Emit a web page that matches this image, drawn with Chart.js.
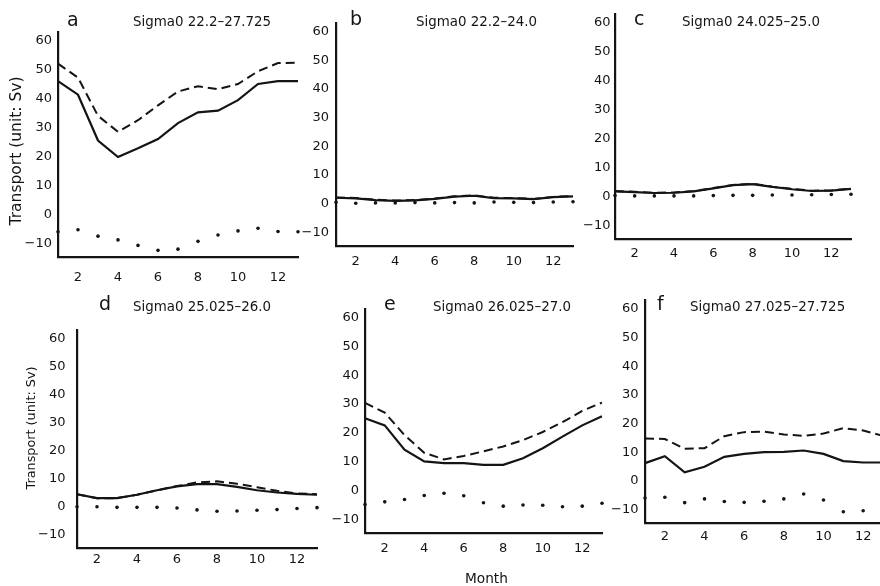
<!DOCTYPE html>
<html>
<head>
<meta charset="utf-8">
<script src="https://cdn.jsdelivr.net/npm/chart.js@4.4.1/dist/chart.umd.min.js"></script>
<style>
  html, body { margin: 0; padding: 0; background: #fff; }
  #fig { position: relative; width: 880px; height: 586px; overflow: hidden; background: #fff; }
  #fig canvas { position: absolute; }
  .lbl { position: absolute; white-space: nowrap; font-family: "DejaVu Sans", sans-serif; color: #141414; line-height: 1; }
</style>
</head>
<body>
<div id="fig"></div>
<script>
// Monthly transport (Sv) per density class
const months = [1, 2, 3, 4, 5, 6, 7, 8, 9, 10, 11, 12, 13];
const xTicks = [2, 4, 6, 8, 10, 12];
const yTicks = [-10, 0, 10, 20, 30, 40, 50, 60];

const aSolid  = [46, 41.3, 25.5, 19.8, 22.8, 26, 31.5, 35.2, 35.8, 39.4, 45, 46, 46];
const aDashed = [52, 47.2, 34, 28.5, 32.5, 37.6, 42.4, 44.2, 43.2, 45, 49.4, 52.2, 52.3];
const aDots   = [-6, -5.3, -7.5, -8.8, -10.7, -12.4, -12, -9.3, -7.1, -5.7, -4.8, -5.9, -6];

const bSolid  = [2.1, 1.9, 1.3, 1.0, 1.2, 1.7, 2.5, 2.8, 2.0, 1.9, 1.6, 2.3, 2.6];
const bDashed = [2.2, 2.0, 1.4, 1.1, 1.3, 1.8, 2.6, 2.9, 2.1, 2.0, 1.7, 2.4, 2.7];
const bDots   = [0.5, 0.2, 0.3, 0.3, 0.4, 0.3, 0.4, 0.3, 0.6, 0.5, 0.4, 0.6, 0.7];

const cSolid  = [1.8, 1.5, 1.2, 1.3, 1.8, 2.8, 3.9, 4.3, 3.3, 2.5, 1.9, 2.0, 2.6];
const cDashed = [1.9, 1.6, 1.3, 1.4, 1.9, 2.9, 4.0, 4.4, 3.4, 2.6, 2.0, 2.1, 2.7];
const cDots   = [0.3, 0.2, 0.2, 0.2, 0.2, 0.3, 0.4, 0.4, 0.5, 0.5, 0.6, 0.7, 0.8];

const dSolid  = [4.5, 3.1, 3.1, 4.3, 5.9, 7.3, 8.1, 8.1, 7.1, 5.9, 5.1, 4.6, 4.3];
const dDashed = [4.5, 3.1, 3.1, 4.3, 5.9, 7.4, 8.7, 9.1, 8.2, 7.0, 5.7, 4.8, 4.5];
const dDots   = [0, 0, -0.2, -0.2, -0.2, -0.4, -1.1, -1.6, -1.5, -1.2, -1.0, -0.6, -0.3];

const eSolid  = [25.1, 22.6, 14.2, 10.1, 9.5, 9.5, 8.9, 8.9, 11.2, 14.7, 18.7, 22.6, 25.8];
const eDashed = [30.4, 27, 19.2, 13.1, 10.8, 12, 13.6, 15.3, 17.5, 20.3, 23.7, 27.6, 30.5];
const eDots   = [-4.8, -3.9, -3.1, -1.7, -0.9, -1.8, -4.2, -5.4, -5, -5.1, -5.6, -5.4, -4.4];

const fSolid  = [6.2, 8.6, 3, 4.9, 8.4, 9.4, 10, 10.1, 10.6, 9.4, 6.9, 6.4, 6.4];
const fDashed = [14.8, 14.6, 11.2, 11.4, 15.6, 17, 17.2, 16.2, 15.7, 16.5, 18.4, 17.6, 15.7];
const fDots   = [-6, -5.7, -7.6, -6.3, -7.2, -7.5, -7.1, -6.3, -4.6, -6.7, -10.8, -10.4, -7];

const Y_MIN = -14.7, Y_MAX = 63;
const INK = '#141414';
const FONT = 'DejaVu Sans';

// box = plot area in page pixels (x = 1 .. 13 maps onto l .. r)
const panels = [
  { letter: 'a', title: 'Sigma0 22.2\u201327.725', solid: aSolid, dashed: aDashed, dots: aDots,
    box: { l: 58, r: 298, t: 24, b: 257 }, yPad: 6, xPad: 13,
    letterAt: [67, 26], titleAt: [133, 26] },
  { letter: 'b', title: 'Sigma0 22.2\u201324.0', solid: bSolid, dashed: bDashed, dots: bDots,
    box: { l: 336, r: 573, t: 14, b: 246 }, yPad: 7, xPad: 8,
    letterAt: [350, 25], titleAt: [416, 26] },
  { letter: 'c', title: 'Sigma0 24.025\u201325.0', solid: cSolid, dashed: cDashed, dots: cDots,
    box: { l: 615, r: 851, t: 8, b: 239 }, yPad: 4.5, xPad: 6.5,
    letterAt: [634, 25], titleAt: [682, 26.5] },
  { letter: 'd', title: 'Sigma0 25.025\u201326.0', solid: dSolid, dashed: dDashed, dots: dDots,
    box: { l: 77, r: 317, t: 317, b: 548 }, yPad: 11.5, xPad: 4,
    letterAt: [99, 310], titleAt: [133, 311.5] },
  { letter: 'e', title: 'Sigma0 26.025\u201327.0', solid: eSolid, dashed: eDashed, dots: eDots,
    box: { l: 365, r: 602, t: 301, b: 533 }, yPad: 6, xPad: 7.5,
    letterAt: [384, 310], titleAt: [433, 311.5] },
  { letter: 'f', title: 'Sigma0 27.025\u201327.725', solid: fSolid, dashed: fDashed, dots: fDots,
    box: { l: 645, r: 883, t: 292, b: 523 }, yPad: 6.5, xPad: 6,
    letterAt: [657, 310], titleAt: [690, 311.5] }
];

const Y_W = 46, X_H = 34, PAD_T = 6, PAD_R = 6;
const fig = document.getElementById('fig');

function toPoints(values) {
  return months.map((m, i) => ({ x: m, y: values[i] }));
}

function addText(text, x, baseline, size) {
  const el = document.createElement('div');
  el.className = 'lbl';
  el.textContent = text;
  el.style.fontSize = size + 'px';
  el.style.left = x + 'px';
  el.style.top = (baseline - 0.846 * size) + 'px';
  fig.appendChild(el);
}

function addVertical(text, cx, cy, size) {
  const el = document.createElement('div');
  el.className = 'lbl';
  el.textContent = text;
  el.style.fontSize = size + 'px';
  el.style.left = cx + 'px';
  el.style.top = cy + 'px';
  el.style.transform = 'translate(-50%, -50%) rotate(-90deg)';
  fig.appendChild(el);
}

panels.forEach(function(p) {
  const b = p.box;
  const canvas = document.createElement('canvas');
  canvas.width = Y_W + (b.r - b.l) + PAD_R;
  canvas.height = PAD_T + (b.b - b.t) + X_H;
  canvas.style.left = (b.l - Y_W) + 'px';
  canvas.style.top = (b.t - PAD_T) + 'px';
  fig.appendChild(canvas);

  const tickFont = { family: FONT, size: 13 };

  new Chart(canvas, {
    type: 'line',
    data: {
      datasets: [
        {
          data: toPoints(p.dots),
          showLine: false,
          pointRadius: 1.8,
          pointBackgroundColor: INK,
          pointBorderWidth: 0,
          clip: false
        },
        {
          data: toPoints(p.dashed),
          borderColor: INK,
          borderWidth: 2,
          borderDash: [9, 5],
          pointRadius: 0,
          tension: 0,
          clip: false
        },
        {
          data: toPoints(p.solid),
          borderColor: INK,
          borderWidth: 2.2,
          pointRadius: 0,
          tension: 0,
          clip: false
        }
      ]
    },
    options: {
      responsive: false,
      animation: false,
      events: [],
      layout: { padding: { top: PAD_T, right: PAD_R, left: 0, bottom: 0 } },
      plugins: { legend: { display: false }, tooltip: { enabled: false } },
      scales: {
        x: {
          type: 'linear',
          min: 1,
          max: 13,
          afterFit: function(s) { s.height = X_H; },
          afterBuildTicks: function(s) { s.ticks = xTicks.map(v => ({ value: v })); },
          grid: { display: false, drawTicks: false },
          border: { display: true, color: INK, width: 2.2 },
          ticks: { font: tickFont, color: INK, padding: p.xPad, maxRotation: 0 }
        },
        y: {
          type: 'linear',
          min: Y_MIN,
          max: Y_MAX,
          afterFit: function(s) { s.width = Y_W; },
          afterBuildTicks: function(s) { s.ticks = yTicks.map(v => ({ value: v })); },
          grid: { display: false, drawTicks: false },
          border: { display: true, color: INK, width: 2.2 },
          ticks: {
            font: tickFont,
            color: INK,
            padding: p.yPad,
            callback: function(v) { return v < 0 ? '\u2212' + Math.abs(v) : String(v); }
          }
        }
      }
    }
  });

  addText(p.letter, p.letterAt[0], p.letterAt[1], 19);
  addText(p.title, p.titleAt[0], p.titleAt[1], 13.4);
});

addVertical('Transport (unit: Sv)', 17, 150.5, 15.5);
addVertical('Transport (unit: Sv)', 31, 427.5, 12.8);
addText('Month', 465, 583.3, 13.7);
</script>
</body>
</html>
